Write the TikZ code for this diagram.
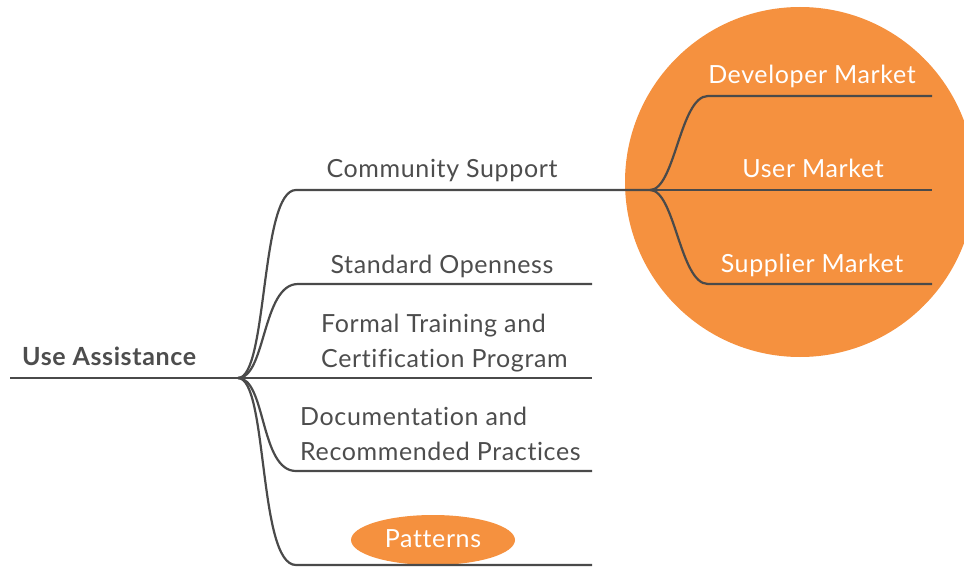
\documentclass[tikz,border=0pt]{standalone}
\usepackage{fontspec}
\setmainfont{Lato}[LetterSpace=2.5, Ligatures={NoCommon}]
\usetikzlibrary{shapes.geometric}
\definecolor{orng}{HTML}{F5913F}
\definecolor{lncol}{HTML}{4A4A4A}
\definecolor{txcol}{HTML}{4D4D4D}
\tikzset{
  branch/.style={draw=lncol, line width=2.2pt},
  lbl/.style={text=txcol, inner sep=0pt, font=\fontsize{25}{35}\selectfont},
  wlbl/.style={text=white, inner sep=0pt, font=\fontsize{25}{35}\selectfont},
}
\begin{document}
\begin{tikzpicture}[x=1pt,y=-1pt]
\useasboundingbox (0,0) rectangle (964,567);
\begin{scope}
\clip (0,0) rectangle (964,567);
\fill[orng] (800,182) circle (175pt);
\end{scope}
\node[ellipse, fill=orng, minimum width=164pt, minimum height=50pt, inner sep=0pt] (patbg) at (433,540) {};

\coordinate (start) at (10,378);
\coordinate (root) at (238,378);
\coordinate (sub) at (650,190);
\coordinate (csEnd) at (296,190);
\coordinate (soC) at (298,284);
\coordinate (soE) at (592,284);
\coordinate (ftE) at (592,378);
\coordinate (dcC) at (296,471);
\coordinate (dcE) at (592,471);
\coordinate (ptC) at (296,565);
\coordinate (ptE) at (592,565);
\coordinate (dmC) at (708,96);
\coordinate (dmE) at (932,96);
\coordinate (umE) at (932,190);
\coordinate (smC) at (708,284);
\coordinate (smE) at (932,284);

\draw[branch] (start) -- (root);
\draw[branch] (root) .. controls (268,378) and (260,190) .. (csEnd) -- (sub);
\draw[branch] (root) .. controls (266,378) and (262,284) .. (soC) -- (soE);
\draw[branch] (root) -- (ftE);
\draw[branch] (root) .. controls (266,378) and (260,471) .. (dcC) -- (dcE);
\draw[branch] (root) .. controls (268,378) and (258,565) .. (ptC) -- (ptE);
\draw[branch] (sub) .. controls (675,190) and (680,96) .. (dmC) -- (dmE);
\draw[branch] (sub) -- (umE);
\draw[branch] (sub) .. controls (675,190) and (680,284) .. (smC) -- (smE);

\node[lbl, font=\fontsize{25}{35}\selectfont\bfseries, anchor=base west] (root-t) at (22,365) {Use Assistance};
\node[lbl, anchor=base] (cs) at (442,178) {Community Support};
\node[lbl, anchor=base] (so) at (442,273) {Standard Openness};
\node[lbl, anchor=base west, align=left] (ft) at (321,367) {Formal Training and\\Certification Program};
\node[lbl, anchor=base west, align=left] (dc) at (300,460) {Documentation and\\Recommended Practices};
\node[wlbl, anchor=base] (pt) at (433,547) {Patterns};
\node[wlbl, anchor=base] (dm) at (812,84) {Developer Market};
\node[wlbl, anchor=base] (um) at (813,178) {User Market};
\node[wlbl, anchor=base] (sm) at (812,272) {Supplier Market};
\end{tikzpicture}
\end{document}
